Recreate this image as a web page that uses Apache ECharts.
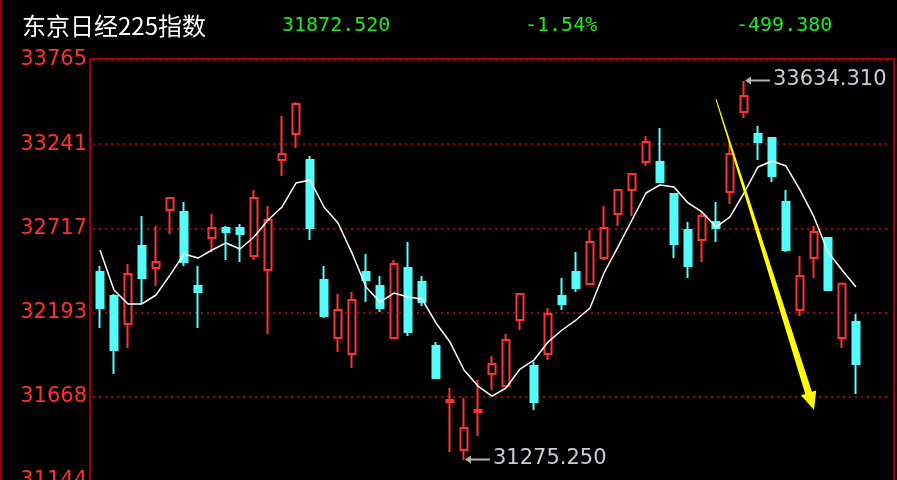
<!DOCTYPE html>
<html>
<head>
<meta charset="utf-8">
<script src="https://cdn.jsdelivr.net/npm/echarts@6/dist/echarts.min.js"></script>
<style>
html,body{margin:0;padding:0;background:#000;}
#c{width:897px;height:480px;}
</style>
</head>
<body>
<div id="c"></div>
<script>
// ---- data ----
const titleText = '东京日经225指数';
const lastPrice = '31872.520';
const changePct = '-1.54%';
const changeAbs = '-499.380';

const yTickLabels = ['31144', '31668', '32193', '32717', '33241', '33765'];
const yMin = 31144;
const yMax = 33765;

const slotCount = 57;
const categories = [];
for (let i = 0; i < slotCount; i++) categories.push('D' + (i + 1));

const opens  = [32445,32296,32121,32607,32470,32831,32819,32358,32657,32719,32719,32545,32458,33142,33304,33142,32395,32034,31935,32445,32358,32034,32470,32383,31984,31636,31337,31574,31810,31735,32146,31860,31935,32296,32445,32370,32532,32806,32956,33130,33130,32931,32707,32644,32756,32943,33441,33304,33279,32881,32209,32532,32657,32034,32134];
const closes = [32221,31960,32433,32408,32507,32906,32507,32321,32719,32694,32682,32906,32769,33180,33491,32719,32171,32209,32271,32395,32221,32495,32072,32258,31785,31648,31474,31586,31872,32022,32308,31636,32184,32246,32346,32632,32719,32956,33055,33254,33005,32619,32482,32794,32719,33180,33541,33254,33043,32582,32420,32694,32333,32371.9,31872.52];
const lows   = [32097,31810,31972,32246,32358,32682,32482,32097,32570,32520,32507,32520,32059,33043,33217,32644,32159,31947,31847,32258,32196,32034,32047,32233,31785,31325,31275.25,31424,31710,31735,32084,31586,31897,32209,32321,32370,32520,32731,32794,33105,33005,32532,32408,32507,32632,32868,33404,33142,33005,32570,32171,32408,32333,31972,31686];
const highs  = [32482,32308,32495,32794,32731,32906,32881,32482,32806,32731,32744,32956,32856,33416,33504,33167,32482,32308,32321,32557,32420,32520,32632,32420,32009,31723,31661,31773,31922,32059,32308,31885,32221,32408,32570,32707,32856,32956,33055,33292,33342,32931,32756,32819,32881,33254,33634.31,33354,33279,32956,32545,32731,32657,32380,32184];
const maValues = [32582,32333,32246,32246,32302,32426,32557,32532,32582,32626,32588,32663,32769,32850,32999,33018,32850,32750,32563,32352,32258,32314,32290,32277,32128,32009,31835,31735,31673,31723,31841,31897,32009,32084,32146,32221,32439,32601,32769,32937,32987,32974,32875,32819,32725,32788,32937,33099,33136,33105,32956,32788,32570,32458,32352];

const highMark = { index: 46, value: 33634.31, text: '33634.310' };
const lowMark  = { index: 26, value: 31275.25, text: '31275.250' };
// yellow trend arrow, anchored in data units: [category index, price]
const arrowStart = [44.45, 33522];
const arrowTip   = [51.15, 31586];

// ---- chart ----
const candleData = opens.map((o, i) => [o, closes[i], lows[i], highs[i]]);

const chart = echarts.init(document.getElementById('c'), null, { renderer: 'canvas' });

const RED = '#ff3232';
const CYAN = '#54fcfc';
const FRAME = '#a00000';
const GREEN = '#22e622';

chart.setOption({
  backgroundColor: '#000',
  animation: false,
  grid: { left: 93, top: 60, width: 798, height: 421, containLabel: false, outerBoundsMode: 'none' },
  xAxis: {
    type: 'category',
    data: categories,
    boundaryGap: true,
    axisLine: { show: false },
    axisTick: { show: false },
    axisLabel: { show: false },
    splitLine: { show: false }
  },
  yAxis: [
    {
      type: 'value', min: yMin, max: yMax, position: 'left',
      axisLine: { show: false }, axisTick: { show: false },
      axisLabel: { show: false }, splitLine: { show: false }
    },
    {
      type: 'value', min: 0, max: 5, interval: 1, position: 'left',
      axisLine: { show: false }, axisTick: { show: false },
      axisLabel: {
        formatter: v => yTickLabels[v],
        color: '#ff3030', fontSize: 21, fontFamily: 'DejaVu Sans', margin: 6
      },
      splitLine: { show: true, lineStyle: { color: FRAME, width: 2, type: [2, 4] } }
    }
  ],
  series: [
    {
      type: 'candlestick',
      yAxisIndex: 0,
      data: candleData,
      barWidth: 8,
      itemStyle: {
        color: '#000', color0: CYAN,
        borderColor: RED, borderColor0: CYAN, borderColorDoji: RED,
        borderWidth: 2
      }
    },
    {
      type: 'line',
      yAxisIndex: 0,
      data: maValues,
      showSymbol: false,
      symbol: 'none',
      lineStyle: { color: '#ffffff', width: 1.5 },
      z: 3
    }
  ]
});

function px(idx, val) {
  return chart.convertToPixel({ xAxisIndex: 0, yAxisIndex: 0 }, [idx, val]);
}

const graphics = [];
// outer frame pieces
graphics.push({ type: 'line', shape: { x1: 0.5, y1: 0, x2: 0.5, y2: 480 }, style: { stroke: FRAME, lineWidth: 2 }, z: 10 });
graphics.push({ type: 'polyline', shape: { points: [[90, 480], [90, 59], [894, 59], [894, 480]] }, style: { stroke: FRAME, lineWidth: 2, fill: null }, z: 10 });

// header
graphics.push({ type: 'text', x: 22, y: 26, style: { text: titleText, font: '24px "Noto Sans CJK SC"', fill: '#ffffff', verticalAlign: 'middle' }, z: 10 });
graphics.push({ type: 'text', x: 282, y: 26, style: { text: lastPrice, font: '20px "DejaVu Sans Mono"', fill: GREEN, verticalAlign: 'middle' }, z: 10 });
graphics.push({ type: 'text', x: 525, y: 26, style: { text: changePct, font: '20px "DejaVu Sans Mono"', fill: GREEN, verticalAlign: 'middle' }, z: 10 });
graphics.push({ type: 'text', x: 736, y: 26, style: { text: changeAbs, font: '20px "DejaVu Sans Mono"', fill: GREEN, verticalAlign: 'middle' }, z: 10 });

// high / low markers
function marker(m) {
  const p = px(m.index, m.value);
  const x0 = p[0] + 1, y0 = Math.round(p[1]) - 0.5;
  graphics.push({ type: 'line', shape: { x1: x0 + 3, y1: y0, x2: x0 + 25, y2: y0 }, style: { stroke: '#b4b4b4', lineWidth: 2 }, z: 11 });
  graphics.push({ type: 'polygon', shape: { points: [[x0, y0], [x0 + 6, y0 - 4], [x0 + 6, y0 + 4]] }, style: { fill: '#b4b4b4' }, z: 11 });
  graphics.push({ type: 'text', x: x0 + 28, y: y0 - 1, style: { text: m.text, font: '21px "DejaVu Sans"', fill: '#c8cdd2', verticalAlign: 'middle' }, z: 11 });
}
marker(highMark);
marker(lowMark);

// yellow arrow
(function () {
  const a = px(arrowStart[0], arrowStart[1]);
  const b = px(arrowTip[0], arrowTip[1]);
  const dx = b[0] - a[0], dy = b[1] - a[1];
  const L = Math.sqrt(dx * dx + dy * dy);
  const ux = dx / L, uy = dy / L;
  const nx = -uy, ny = ux;
  const headLen = 18, headHalf = 8, shaftHalf = 3.5, topHalf = 0.5;
  const hb = [b[0] - ux * headLen, b[1] - uy * headLen];
  const pts = [
    [a[0] + nx * topHalf, a[1] + ny * topHalf],
    [hb[0] + nx * shaftHalf, hb[1] + ny * shaftHalf],
    [hb[0] + nx * headHalf, hb[1] + ny * headHalf],
    [b[0], b[1]],
    [hb[0] - nx * headHalf, hb[1] - ny * headHalf],
    [hb[0] - nx * shaftHalf, hb[1] - ny * shaftHalf],
    [a[0] - nx * topHalf, a[1] - ny * topHalf]
  ];
  graphics.push({ type: 'polygon', shape: { points: pts }, style: { fill: '#ffff00' }, z: 12 });
})();

chart.setOption({ graphic: graphics });
</script>
</body>
</html>
